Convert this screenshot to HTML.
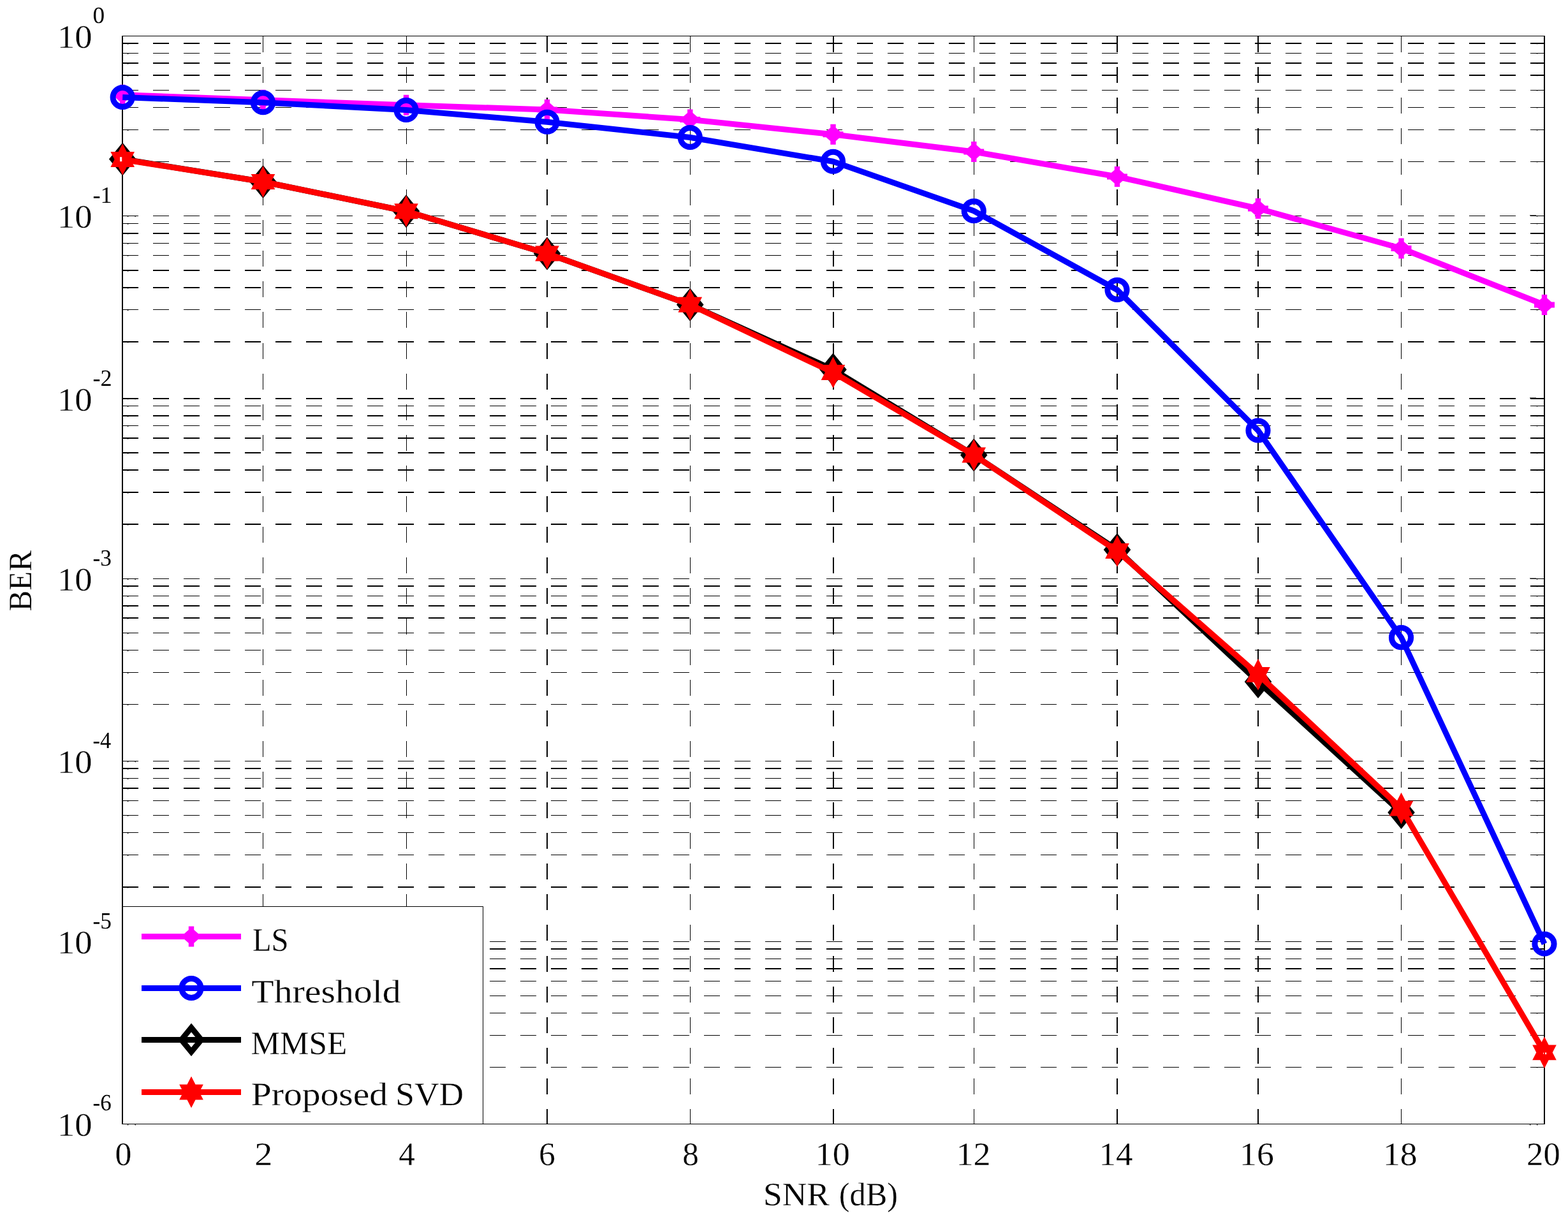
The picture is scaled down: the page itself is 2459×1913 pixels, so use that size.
<!DOCTYPE html>
<html lang="en"><head><meta charset="utf-8"><title>BER versus SNR</title>
<style>
html,body{margin:0;padding:0;background:#fff}
body{width:2459px;height:1913px;overflow:hidden}
svg{display:block;font-family:"Liberation Serif","DejaVu Serif",serif;fill:#000;font-kerning:none;text-rendering:geometricPrecision}
text{stroke:#fff;stroke-width:.3px}
text.e{stroke-width:0}
</style></head><body>
<svg width="2459" height="1913" viewBox="0 0 2459 1913">
<rect width="2459" height="1913" fill="#fff"/>
<g stroke="#000" fill="none" shape-rendering="crispEdges">
<line x1="192" x2="2422.0" y1="67.90" y2="67.90" stroke-width="2" stroke-dasharray="25 23"/>
<line x1="192" x2="2422.0" y1="83.40" y2="83.40" stroke-width="1" stroke-dasharray="25 23"/>
<line x1="192" x2="2422.0" y1="99.00" y2="99.00" stroke-width="2" stroke-dasharray="25 23"/>
<line x1="192" x2="2422.0" y1="117.90" y2="117.90" stroke-width="2" stroke-dasharray="25 23"/>
<line x1="192" x2="2422.0" y1="141.40" y2="141.40" stroke-width="1" stroke-dasharray="25 23"/>
<line x1="192" x2="2422.0" y1="168.30" y2="168.30" stroke-width="1" stroke-dasharray="25 23"/>
<line x1="192" x2="2422.0" y1="203.40" y2="203.40" stroke-width="1" stroke-dasharray="25 23"/>
<line x1="192" x2="2422.0" y1="253.20" y2="253.20" stroke-width="1" stroke-dasharray="25 23"/>
<line x1="192" x2="2422.0" y1="338.30" y2="338.30" stroke-width="1" stroke-dasharray="25 23"/>
<line x1="192" x2="2422.0" y1="350.20" y2="350.20" stroke-width="1" stroke-dasharray="25 23"/>
<line x1="192" x2="2422.0" y1="365.60" y2="365.60" stroke-width="2" stroke-dasharray="25 23"/>
<line x1="192" x2="2422.0" y1="381.30" y2="381.30" stroke-width="1" stroke-dasharray="25 23"/>
<line x1="192" x2="2422.0" y1="400.10" y2="400.10" stroke-width="1" stroke-dasharray="25 23"/>
<line x1="192" x2="2422.0" y1="424.00" y2="424.00" stroke-width="2" stroke-dasharray="25 23"/>
<line x1="192" x2="2422.0" y1="450.80" y2="450.80" stroke-width="2" stroke-dasharray="25 23"/>
<line x1="192" x2="2422.0" y1="485.60" y2="485.60" stroke-width="1" stroke-dasharray="25 23"/>
<line x1="192" x2="2422.0" y1="535.70" y2="535.70" stroke-width="2" stroke-dasharray="25 23"/>
<line x1="192" x2="2422.0" y1="624.50" y2="624.50" stroke-width="2" stroke-dasharray="25 23"/>
<line x1="192" x2="2422.0" y1="636.30" y2="636.30" stroke-width="1" stroke-dasharray="25 23"/>
<line x1="192" x2="2422.0" y1="651.90" y2="651.90" stroke-width="2" stroke-dasharray="25 23"/>
<line x1="192" x2="2422.0" y1="667.30" y2="667.30" stroke-width="1" stroke-dasharray="25 23"/>
<line x1="192" x2="2422.0" y1="687.00" y2="687.00" stroke-width="2" stroke-dasharray="25 23"/>
<line x1="192" x2="2422.0" y1="710.00" y2="710.00" stroke-width="2" stroke-dasharray="25 23"/>
<line x1="192" x2="2422.0" y1="736.90" y2="736.90" stroke-width="2" stroke-dasharray="25 23"/>
<line x1="192" x2="2422.0" y1="772.00" y2="772.00" stroke-width="2" stroke-dasharray="25 23"/>
<line x1="192" x2="2422.0" y1="822.00" y2="822.00" stroke-width="2" stroke-dasharray="25 23"/>
<line x1="192" x2="2422.0" y1="907.50" y2="907.50" stroke-width="1" stroke-dasharray="25 23"/>
<line x1="192" x2="2422.0" y1="919.10" y2="919.10" stroke-width="2" stroke-dasharray="25 23"/>
<line x1="192" x2="2422.0" y1="934.40" y2="934.40" stroke-width="1" stroke-dasharray="25 23"/>
<line x1="192" x2="2422.0" y1="950.00" y2="950.00" stroke-width="2" stroke-dasharray="25 23"/>
<line x1="192" x2="2422.0" y1="969.00" y2="969.00" stroke-width="2" stroke-dasharray="25 23"/>
<line x1="192" x2="2422.0" y1="992.50" y2="992.50" stroke-width="1" stroke-dasharray="25 23"/>
<line x1="192" x2="2422.0" y1="1019.60" y2="1019.60" stroke-width="1" stroke-dasharray="25 23"/>
<line x1="192" x2="2422.0" y1="1054.50" y2="1054.50" stroke-width="1" stroke-dasharray="25 23"/>
<line x1="192" x2="2422.0" y1="1104.40" y2="1104.40" stroke-width="1" stroke-dasharray="25 23"/>
<line x1="192" x2="2422.0" y1="1193.50" y2="1193.50" stroke-width="1" stroke-dasharray="25 23"/>
<line x1="192" x2="2422.0" y1="1205.00" y2="1205.00" stroke-width="2" stroke-dasharray="25 23"/>
<line x1="192" x2="2422.0" y1="1220.40" y2="1220.40" stroke-width="1" stroke-dasharray="25 23"/>
<line x1="192" x2="2422.0" y1="1236.00" y2="1236.00" stroke-width="2" stroke-dasharray="25 23"/>
<line x1="192" x2="2422.0" y1="1255.40" y2="1255.40" stroke-width="1" stroke-dasharray="25 23"/>
<line x1="192" x2="2422.0" y1="1278.25" y2="1278.25" stroke-width="1" stroke-dasharray="25 23"/>
<line x1="192" x2="2422.0" y1="1305.50" y2="1305.50" stroke-width="1" stroke-dasharray="25 23"/>
<line x1="192" x2="2422.0" y1="1340.50" y2="1340.50" stroke-width="1" stroke-dasharray="25 23"/>
<line x1="192" x2="2422.0" y1="1390.75" y2="1390.75" stroke-width="2" stroke-dasharray="25 23"/>
<line x1="192" x2="2422.0" y1="1476.20" y2="1476.20" stroke-width="1" stroke-dasharray="25 23"/>
<line x1="192" x2="2422.0" y1="1488.00" y2="1488.00" stroke-width="2" stroke-dasharray="25 23"/>
<line x1="192" x2="2422.0" y1="1503.30" y2="1503.30" stroke-width="1" stroke-dasharray="25 23"/>
<line x1="192" x2="2422.0" y1="1518.80" y2="1518.80" stroke-width="2" stroke-dasharray="25 23"/>
<line x1="192" x2="2422.0" y1="1538.20" y2="1538.20" stroke-width="1" stroke-dasharray="25 23"/>
<line x1="192" x2="2422.0" y1="1561.30" y2="1561.30" stroke-width="1" stroke-dasharray="25 23"/>
<line x1="192" x2="2422.0" y1="1588.40" y2="1588.40" stroke-width="1" stroke-dasharray="25 23"/>
<line x1="192" x2="2422.0" y1="1623.30" y2="1623.30" stroke-width="1" stroke-dasharray="25 23"/>
<line x1="192" x2="2422.0" y1="1673.30" y2="1673.30" stroke-width="1" stroke-dasharray="25 23"/>
<line x1="412.50" x2="412.50" y1="57" y2="1762.3" stroke-width="1" stroke-dasharray="25 23.05"/>
<line x1="637.00" x2="637.00" y1="57" y2="1762.3" stroke-width="1" stroke-dasharray="25 23.05"/>
<line x1="858.00" x2="858.00" y1="57" y2="1762.3" stroke-width="2" stroke-dasharray="25 23.05"/>
<line x1="1082.25" x2="1082.25" y1="57" y2="1762.3" stroke-width="1" stroke-dasharray="25 23.05"/>
<line x1="1306.50" x2="1306.50" y1="57" y2="1762.3" stroke-width="2" stroke-dasharray="25 23.05"/>
<line x1="1527.25" x2="1527.25" y1="57" y2="1762.3" stroke-width="1" stroke-dasharray="25 23.05"/>
<line x1="1752.00" x2="1752.00" y1="57" y2="1762.3" stroke-width="2" stroke-dasharray="25 23.05"/>
<line x1="1973.00" x2="1973.00" y1="57" y2="1762.3" stroke-width="2" stroke-dasharray="25 23.05"/>
<line x1="2197.50" x2="2197.50" y1="57" y2="1762.3" stroke-width="1" stroke-dasharray="25 23.05"/>
</g>
<g fill="#000">
<rect x="200" y="67.9" width="1.2" height="1.8"/><rect x="2410" y="67.9" width="1" height="1.4"/>
<rect x="200" y="83.4" width="1.2" height="1.8"/><rect x="2410" y="83.4" width="1" height="1.4"/>
<rect x="200" y="99.0" width="1.2" height="1.8"/><rect x="2410" y="99.0" width="1" height="1.4"/>
<rect x="200" y="117.9" width="1.2" height="1.8"/><rect x="2410" y="117.9" width="1" height="1.4"/>
<rect x="200" y="141.4" width="1.2" height="1.8"/><rect x="2410" y="141.4" width="1" height="1.4"/>
<rect x="200" y="168.3" width="1.2" height="1.8"/><rect x="2410" y="168.3" width="1" height="1.4"/>
<rect x="200" y="203.4" width="1.2" height="1.8"/><rect x="2410" y="203.4" width="1" height="1.4"/>
<rect x="200" y="253.2" width="1.2" height="1.8"/><rect x="2410" y="253.2" width="1" height="1.4"/>
<rect x="200" y="338.3" width="1.2" height="1.8"/><rect x="2410" y="338.3" width="1" height="1.4"/>
<rect x="211.5" y="338.3" width="1.2" height="1.8"/><rect x="2399" y="337.3" width="10" height="1"/>
<rect x="200" y="350.2" width="1.2" height="1.8"/><rect x="2410" y="350.2" width="1" height="1.4"/>
<rect x="200" y="365.6" width="1.2" height="1.8"/><rect x="2410" y="365.6" width="1" height="1.4"/>
<rect x="200" y="381.3" width="1.2" height="1.8"/><rect x="2410" y="381.3" width="1" height="1.4"/>
<rect x="200" y="400.1" width="1.2" height="1.8"/><rect x="2410" y="400.1" width="1" height="1.4"/>
<rect x="200" y="424.0" width="1.2" height="1.8"/><rect x="2410" y="424.0" width="1" height="1.4"/>
<rect x="200" y="450.8" width="1.2" height="1.8"/><rect x="2410" y="450.8" width="1" height="1.4"/>
<rect x="200" y="485.6" width="1.2" height="1.8"/><rect x="2410" y="485.6" width="1" height="1.4"/>
<rect x="200" y="535.7" width="1.2" height="1.8"/><rect x="2410" y="535.7" width="1" height="1.4"/>
<rect x="200" y="624.5" width="1.2" height="1.8"/><rect x="2410" y="624.5" width="1" height="1.4"/>
<rect x="211.5" y="624.5" width="1.2" height="1.8"/><rect x="2399" y="623.5" width="10" height="1"/>
<rect x="200" y="636.3" width="1.2" height="1.8"/><rect x="2410" y="636.3" width="1" height="1.4"/>
<rect x="200" y="651.9" width="1.2" height="1.8"/><rect x="2410" y="651.9" width="1" height="1.4"/>
<rect x="200" y="667.3" width="1.2" height="1.8"/><rect x="2410" y="667.3" width="1" height="1.4"/>
<rect x="200" y="687.0" width="1.2" height="1.8"/><rect x="2410" y="687.0" width="1" height="1.4"/>
<rect x="200" y="710.0" width="1.2" height="1.8"/><rect x="2410" y="710.0" width="1" height="1.4"/>
<rect x="200" y="736.9" width="1.2" height="1.8"/><rect x="2410" y="736.9" width="1" height="1.4"/>
<rect x="200" y="772.0" width="1.2" height="1.8"/><rect x="2410" y="772.0" width="1" height="1.4"/>
<rect x="200" y="822.0" width="1.2" height="1.8"/><rect x="2410" y="822.0" width="1" height="1.4"/>
<rect x="200" y="907.5" width="1.2" height="1.8"/><rect x="2410" y="907.5" width="1" height="1.4"/>
<rect x="211.5" y="907.5" width="1.2" height="1.8"/><rect x="2399" y="906.5" width="10" height="1"/>
<rect x="200" y="919.1" width="1.2" height="1.8"/><rect x="2410" y="919.1" width="1" height="1.4"/>
<rect x="200" y="934.4" width="1.2" height="1.8"/><rect x="2410" y="934.4" width="1" height="1.4"/>
<rect x="200" y="950.0" width="1.2" height="1.8"/><rect x="2410" y="950.0" width="1" height="1.4"/>
<rect x="200" y="969.0" width="1.2" height="1.8"/><rect x="2410" y="969.0" width="1" height="1.4"/>
<rect x="200" y="992.5" width="1.2" height="1.8"/><rect x="2410" y="992.5" width="1" height="1.4"/>
<rect x="200" y="1019.6" width="1.2" height="1.8"/><rect x="2410" y="1019.6" width="1" height="1.4"/>
<rect x="200" y="1054.5" width="1.2" height="1.8"/><rect x="2410" y="1054.5" width="1" height="1.4"/>
<rect x="200" y="1104.4" width="1.2" height="1.8"/><rect x="2410" y="1104.4" width="1" height="1.4"/>
<rect x="200" y="1193.5" width="1.2" height="1.8"/><rect x="2410" y="1193.5" width="1" height="1.4"/>
<rect x="211.5" y="1193.5" width="1.2" height="1.8"/><rect x="2399" y="1192.5" width="10" height="1"/>
<rect x="200" y="1205.0" width="1.2" height="1.8"/><rect x="2410" y="1205.0" width="1" height="1.4"/>
<rect x="200" y="1220.4" width="1.2" height="1.8"/><rect x="2410" y="1220.4" width="1" height="1.4"/>
<rect x="200" y="1236.0" width="1.2" height="1.8"/><rect x="2410" y="1236.0" width="1" height="1.4"/>
<rect x="200" y="1255.4" width="1.2" height="1.8"/><rect x="2410" y="1255.4" width="1" height="1.4"/>
<rect x="200" y="1278.2" width="1.2" height="1.8"/><rect x="2410" y="1278.2" width="1" height="1.4"/>
<rect x="200" y="1305.5" width="1.2" height="1.8"/><rect x="2410" y="1305.5" width="1" height="1.4"/>
<rect x="200" y="1340.5" width="1.2" height="1.8"/><rect x="2410" y="1340.5" width="1" height="1.4"/>
<rect x="200" y="1390.8" width="1.2" height="1.8"/><rect x="2410" y="1390.8" width="1" height="1.4"/>
<rect x="200" y="1476.2" width="1.2" height="1.8"/><rect x="2410" y="1476.2" width="1" height="1.4"/>
<rect x="211.5" y="1476.2" width="1.2" height="1.8"/><rect x="2399" y="1475.2" width="10" height="1"/>
<rect x="200" y="1488.0" width="1.2" height="1.8"/><rect x="2410" y="1488.0" width="1" height="1.4"/>
<rect x="200" y="1503.3" width="1.2" height="1.8"/><rect x="2410" y="1503.3" width="1" height="1.4"/>
<rect x="200" y="1518.8" width="1.2" height="1.8"/><rect x="2410" y="1518.8" width="1" height="1.4"/>
<rect x="200" y="1538.2" width="1.2" height="1.8"/><rect x="2410" y="1538.2" width="1" height="1.4"/>
<rect x="200" y="1561.3" width="1.2" height="1.8"/><rect x="2410" y="1561.3" width="1" height="1.4"/>
<rect x="200" y="1588.4" width="1.2" height="1.8"/><rect x="2410" y="1588.4" width="1" height="1.4"/>
<rect x="200" y="1623.3" width="1.2" height="1.8"/><rect x="2410" y="1623.3" width="1" height="1.4"/>
<rect x="200" y="1673.3" width="1.2" height="1.8"/><rect x="2410" y="1673.3" width="1" height="1.4"/>
<rect x="200" y="1763" width="1.2" height="1.6"/>
<rect x="211.5" y="1763" width="1.2" height="1.6"/>
<rect x="2399" y="1763" width="1.2" height="1.6"/>
<rect x="2410" y="1763" width="1.2" height="1.6"/>
</g>
<g stroke="#000" fill="none" shape-rendering="crispEdges">
<line x1="191" x2="2423" y1="56.6" y2="56.6" stroke-width="1.3"/>
<line x1="191" x2="2423" y1="1762.3" y2="1762.3" stroke-width="1.3"/>
<line x1="192.2" x2="192.2" y1="56" y2="1763" stroke-width="2"/>
<line x1="2422.0" x2="2422.0" y1="56" y2="1763" stroke-width="2"/>
</g>
<polyline fill="none" stroke="#f0f" stroke-width="9.0" stroke-linejoin="round" points="192.20,148.80 412.50,156.80 637.00,164.80 858.00,171.90 1082.25,187.50 1306.50,210.75 1527.25,238.00 1752.00,277.00 1973.00,327.00 2197.50,389.50 2422.00,478.00"/>
<path fill="#f0f" d="M188.00 132.80h8.4v5.6l6.8 6h5v8.8h-5l-6.8 6v5.6h-8.4v-5.6l-6.8 -6h-5v-8.8h5l6.8 -6z"/>
<path fill="#f0f" d="M408.30 140.80h8.4v5.6l6.8 6h5v8.8h-5l-6.8 6v5.6h-8.4v-5.6l-6.8 -6h-5v-8.8h5l6.8 -6z"/>
<path fill="#f0f" d="M632.80 148.80h8.4v5.6l6.8 6h5v8.8h-5l-6.8 6v5.6h-8.4v-5.6l-6.8 -6h-5v-8.8h5l6.8 -6z"/>
<path fill="#f0f" d="M853.80 155.90h8.4v5.6l6.8 6h5v8.8h-5l-6.8 6v5.6h-8.4v-5.6l-6.8 -6h-5v-8.8h5l6.8 -6z"/>
<path fill="#f0f" d="M1078.05 171.50h8.4v5.6l6.8 6h5v8.8h-5l-6.8 6v5.6h-8.4v-5.6l-6.8 -6h-5v-8.8h5l6.8 -6z"/>
<path fill="#f0f" d="M1302.30 194.75h8.4v5.6l6.8 6h5v8.8h-5l-6.8 6v5.6h-8.4v-5.6l-6.8 -6h-5v-8.8h5l6.8 -6z"/>
<path fill="#f0f" d="M1523.05 222.00h8.4v5.6l6.8 6h5v8.8h-5l-6.8 6v5.6h-8.4v-5.6l-6.8 -6h-5v-8.8h5l6.8 -6z"/>
<path fill="#f0f" d="M1747.80 261.00h8.4v5.6l6.8 6h5v8.8h-5l-6.8 6v5.6h-8.4v-5.6l-6.8 -6h-5v-8.8h5l6.8 -6z"/>
<path fill="#f0f" d="M1968.80 311.00h8.4v5.6l6.8 6h5v8.8h-5l-6.8 6v5.6h-8.4v-5.6l-6.8 -6h-5v-8.8h5l6.8 -6z"/>
<path fill="#f0f" d="M2193.30 373.50h8.4v5.6l6.8 6h5v8.8h-5l-6.8 6v5.6h-8.4v-5.6l-6.8 -6h-5v-8.8h5l6.8 -6z"/>
<path fill="#f0f" d="M2417.80 462.00h8.4v5.6l6.8 6h5v8.8h-5l-6.8 6v5.6h-8.4v-5.6l-6.8 -6h-5v-8.8h5l6.8 -6z"/>
<polyline fill="none" stroke="#00f" stroke-width="9.0" stroke-linejoin="round" points="192.20,152.50 412.50,160.75 637.00,172.50 858.00,191.25 1082.25,215.50 1306.50,253.25 1527.25,330.75 1752.00,454.50 1973.00,675.00 2197.50,999.70 2422.00,1480.00"/>
<circle cx="192.20" cy="152.50" r="15.1" fill="none" stroke="#00f" stroke-width="9"/>
<circle cx="412.50" cy="160.75" r="15.1" fill="none" stroke="#00f" stroke-width="9"/>
<circle cx="637.00" cy="172.50" r="15.1" fill="none" stroke="#00f" stroke-width="9"/>
<circle cx="858.00" cy="191.25" r="15.1" fill="none" stroke="#00f" stroke-width="9"/>
<circle cx="1082.25" cy="215.50" r="15.1" fill="none" stroke="#00f" stroke-width="9"/>
<circle cx="1306.50" cy="253.25" r="15.1" fill="none" stroke="#00f" stroke-width="9"/>
<circle cx="1527.25" cy="330.75" r="15.1" fill="none" stroke="#00f" stroke-width="9"/>
<circle cx="1752.00" cy="454.50" r="15.1" fill="none" stroke="#00f" stroke-width="9"/>
<circle cx="1973.00" cy="675.00" r="15.1" fill="none" stroke="#00f" stroke-width="9"/>
<circle cx="2197.50" cy="999.70" r="15.1" fill="none" stroke="#00f" stroke-width="9"/>
<circle cx="2422.00" cy="1480.00" r="15.1" fill="none" stroke="#00f" stroke-width="9"/>
<polyline fill="none" stroke="#000" stroke-width="9.0" stroke-linejoin="round" points="192.20,249.50 412.50,285.00 637.00,331.25 858.00,397.50 1082.25,477.75 1306.50,579.50 1527.25,713.50 1752.00,862.00 1973.00,1069.00 2197.50,1274.00"/>
<path fill="none" stroke="#000" stroke-width="8.8" stroke-linejoin="miter" stroke-miterlimit="10" d="M192.20 230.50l15.6 19l-15.6 19l-15.6 -19z"/>
<path fill="none" stroke="#000" stroke-width="8.8" stroke-linejoin="miter" stroke-miterlimit="10" d="M412.50 266.00l15.6 19l-15.6 19l-15.6 -19z"/>
<path fill="none" stroke="#000" stroke-width="8.8" stroke-linejoin="miter" stroke-miterlimit="10" d="M637.00 312.25l15.6 19l-15.6 19l-15.6 -19z"/>
<path fill="none" stroke="#000" stroke-width="8.8" stroke-linejoin="miter" stroke-miterlimit="10" d="M858.00 378.50l15.6 19l-15.6 19l-15.6 -19z"/>
<path fill="none" stroke="#000" stroke-width="8.8" stroke-linejoin="miter" stroke-miterlimit="10" d="M1082.25 458.75l15.6 19l-15.6 19l-15.6 -19z"/>
<path fill="none" stroke="#000" stroke-width="8.8" stroke-linejoin="miter" stroke-miterlimit="10" d="M1306.50 560.50l15.6 19l-15.6 19l-15.6 -19z"/>
<path fill="none" stroke="#000" stroke-width="8.8" stroke-linejoin="miter" stroke-miterlimit="10" d="M1527.25 694.50l15.6 19l-15.6 19l-15.6 -19z"/>
<path fill="none" stroke="#000" stroke-width="8.8" stroke-linejoin="miter" stroke-miterlimit="10" d="M1752.00 843.00l15.6 19l-15.6 19l-15.6 -19z"/>
<path fill="none" stroke="#000" stroke-width="8.8" stroke-linejoin="miter" stroke-miterlimit="10" d="M1973.00 1050.00l15.6 19l-15.6 19l-15.6 -19z"/>
<path fill="none" stroke="#000" stroke-width="8.8" stroke-linejoin="miter" stroke-miterlimit="10" d="M2197.50 1255.00l15.6 19l-15.6 19l-15.6 -19z"/>
<polyline fill="none" stroke="#f00" stroke-width="9.0" stroke-linejoin="round" points="192.20,250.00 412.50,285.00 637.00,331.25 858.00,397.50 1082.25,477.75 1306.50,584.00 1527.25,713.50 1752.00,864.00 1973.00,1057.80 2197.50,1267.60 2422.00,1650.40"/>
<path fill="#f00" d="M192.20 225.20L211.00 261.90H173.40zM192.20 274.80L173.40 238.10H211.00z"/>
<path fill="#f00" d="M412.50 260.20L431.30 296.90H393.70zM412.50 309.80L393.70 273.10H431.30z"/>
<path fill="#f00" d="M637.00 306.45L655.80 343.15H618.20zM637.00 356.05L618.20 319.35H655.80z"/>
<path fill="#f00" d="M858.00 372.70L876.80 409.40H839.20zM858.00 422.30L839.20 385.60H876.80z"/>
<path fill="#f00" d="M1082.25 452.95L1101.05 489.65H1063.45zM1082.25 502.55L1063.45 465.85H1101.05z"/>
<path fill="#f00" d="M1306.50 559.20L1325.30 595.90H1287.70zM1306.50 608.80L1287.70 572.10H1325.30z"/>
<path fill="#f00" d="M1527.25 688.70L1546.05 725.40H1508.45zM1527.25 738.30L1508.45 701.60H1546.05z"/>
<path fill="#f00" d="M1752.00 839.20L1770.80 875.90H1733.20zM1752.00 888.80L1733.20 852.10H1770.80z"/>
<path fill="#f00" d="M1973.00 1033.00L1991.80 1069.70H1954.20zM1973.00 1082.60L1954.20 1045.90H1991.80z"/>
<path fill="#f00" d="M2197.50 1242.80L2216.30 1279.50H2178.70zM2197.50 1292.40L2178.70 1255.70H2216.30z"/>
<path fill="#f00" d="M2422.00 1625.60L2440.80 1662.30H2403.20zM2422.00 1675.20L2403.20 1638.50H2440.80z"/>
<rect x="188" y="246.2" width="3.2" height="7" fill="#fff"/>
<rect x="2423" y="1650.4" width="2.2" height="2.8" fill="#fff"/><rect x="2420.1" y="1650.6" width="1" height="2.2" fill="#fff"/>
<rect x="192.7" y="1421.4" width="565" height="340.9" fill="#fff" stroke="#000" stroke-width="1.2" shape-rendering="crispEdges"/>
<line x1="192.2" x2="192.2" y1="1420" y2="1763" stroke="#000" stroke-width="2" shape-rendering="crispEdges"/>
<line x1="222" x2="378" y1="1468.4" y2="1468.4" stroke="#f0f" stroke-width="9.0"/>
<path fill="#f0f" d="M295.80 1452.40h8.4v5.6l6.8 6h5v8.8h-5l-6.8 6v5.6h-8.4v-5.6l-6.8 -6h-5v-8.8h5l6.8 -6z"/>
<text y="1490.50" font-size="51.5"><tspan x="395.90" textLength="56.61" lengthAdjust="spacingAndGlyphs">LS</tspan></text>
<line x1="222" x2="378" y1="1549.5" y2="1549.5" stroke="#00f" stroke-width="9.0"/>
<circle cx="300.00" cy="1549.50" r="15.1" fill="none" stroke="#00f" stroke-width="9"/>
<text y="1571.60" font-size="51.5"><tspan x="394.36" textLength="234.35" lengthAdjust="spacingAndGlyphs">Threshold</tspan></text>
<line x1="222" x2="378" y1="1630.4" y2="1630.4" stroke="#000" stroke-width="9.0"/>
<path fill="none" stroke="#000" stroke-width="8.8" stroke-linejoin="miter" stroke-miterlimit="10" d="M300.00 1611.40l15.6 19l-15.6 19l-15.6 -19z"/>
<text y="1652.80" font-size="51.5"><tspan x="393.53" textLength="150.62" lengthAdjust="spacingAndGlyphs">MMSE</tspan></text>
<line x1="222" x2="378" y1="1712.5" y2="1712.5" stroke="#f00" stroke-width="9.0"/>
<path fill="#f00" d="M300.00 1687.70L318.80 1724.40H281.20zM300.00 1737.30L281.20 1700.60H318.80z"/>
<text y="1733.30" font-size="51.5"><tspan x="393.84" textLength="214.16" lengthAdjust="spacingAndGlyphs">Proposed</tspan> <tspan x="620.23" textLength="106.81" lengthAdjust="spacingAndGlyphs">SVD</tspan></text>
<text y="1827.40" font-size="51.5" x="180.53" textLength="25.84" lengthAdjust="spacingAndGlyphs">0</text>
<text y="1827.40" font-size="51.5" x="399.28" textLength="28.06" lengthAdjust="spacingAndGlyphs">2</text>
<text y="1827.40" font-size="51.5" x="625.25" textLength="25.55" lengthAdjust="spacingAndGlyphs">4</text>
<text y="1827.40" font-size="51.5" x="845.04" textLength="25.75" lengthAdjust="spacingAndGlyphs">6</text>
<text y="1827.40" font-size="51.5" x="1070.30" textLength="25.66" lengthAdjust="spacingAndGlyphs">8</text>
<text y="1827.40" font-size="51.5" x="1278.52" textLength="54.35" lengthAdjust="spacingAndGlyphs">10</text>
<text y="1827.40" font-size="51.5" x="1499.54" textLength="54.15" lengthAdjust="spacingAndGlyphs">12</text>
<text y="1827.40" font-size="51.5" x="1723.43" textLength="53.10" lengthAdjust="spacingAndGlyphs">14</text>
<text y="1827.40" font-size="51.5" x="1944.08" textLength="53.72" lengthAdjust="spacingAndGlyphs">16</text>
<text y="1827.40" font-size="51.5" x="2168.88" textLength="53.66" lengthAdjust="spacingAndGlyphs">18</text>
<text y="1827.40" font-size="51.5" x="2394.08" textLength="52.73" lengthAdjust="spacingAndGlyphs">20</text>
<text y="75.30" font-size="51.5" x="89.95" textLength="54.63" lengthAdjust="spacingAndGlyphs">10</text>
<text y="35.90" font-size="36.5" x="145.58" textLength="18.64" lengthAdjust="spacingAndGlyphs" class="e">0</text>
<text y="357.00" font-size="51.5" x="89.95" textLength="54.63" lengthAdjust="spacingAndGlyphs">10</text>
<text y="317.60" font-size="36.5" x="145.45" textLength="30.34" lengthAdjust="spacingAndGlyphs" class="e">-1</text>
<text y="644.00" font-size="51.5" x="89.95" textLength="54.63" lengthAdjust="spacingAndGlyphs">10</text>
<text y="604.60" font-size="36.5" x="145.46" textLength="30.14" lengthAdjust="spacingAndGlyphs" class="e">-2</text>
<text y="926.20" font-size="51.5" x="89.95" textLength="54.63" lengthAdjust="spacingAndGlyphs">10</text>
<text y="886.80" font-size="36.5" x="145.49" textLength="29.50" lengthAdjust="spacingAndGlyphs" class="e">-3</text>
<text y="1211.90" font-size="51.5" x="89.95" textLength="54.63" lengthAdjust="spacingAndGlyphs">10</text>
<text y="1172.50" font-size="36.5" x="145.53" textLength="28.61" lengthAdjust="spacingAndGlyphs" class="e">-4</text>
<text y="1495.25" font-size="51.5" x="89.95" textLength="54.63" lengthAdjust="spacingAndGlyphs">10</text>
<text y="1455.85" font-size="36.5" x="145.49" textLength="29.50" lengthAdjust="spacingAndGlyphs" class="e">-5</text>
<text y="1780.60" font-size="51.5" x="89.95" textLength="54.63" lengthAdjust="spacingAndGlyphs">10</text>
<text y="1741.20" font-size="36.5" x="145.50" textLength="29.14" lengthAdjust="spacingAndGlyphs" class="e">-6</text>
<text y="1890.00" font-size="51.5"><tspan x="1196.93" textLength="103.95" lengthAdjust="spacingAndGlyphs">SNR</tspan> <tspan x="1315.79" textLength="92.33" lengthAdjust="spacingAndGlyphs">(dB)</tspan></text>
<text transform="translate(49 957.1) rotate(-90)" y="0" font-size="51.5" x="-1.41" textLength="95.49" lengthAdjust="spacingAndGlyphs">BER</text>
</svg></body></html>
